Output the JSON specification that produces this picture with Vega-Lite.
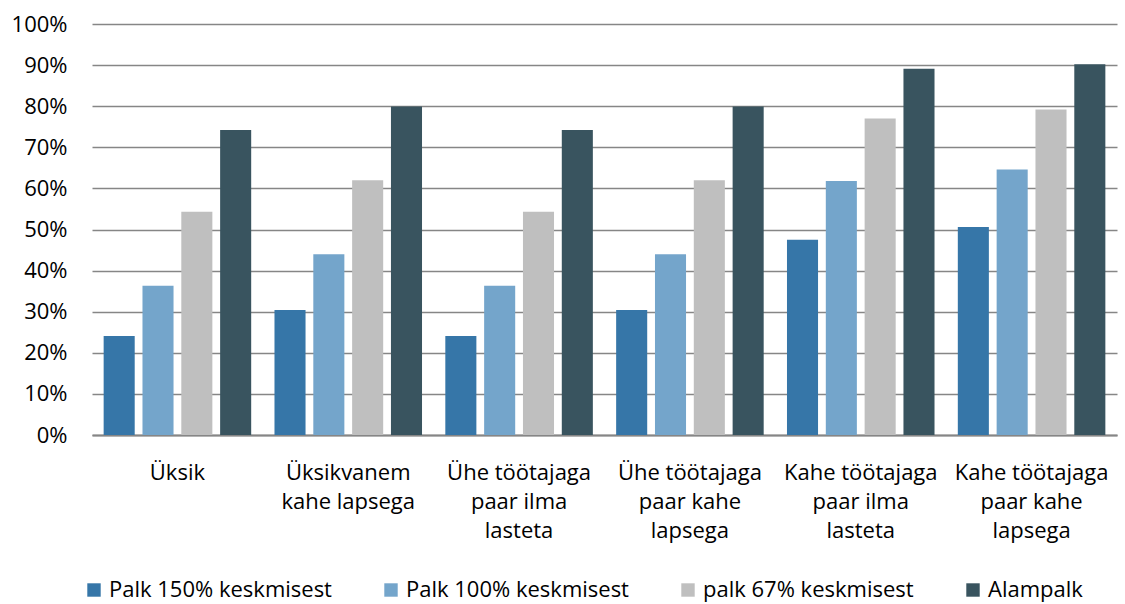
{
  "$schema": "https://vega.github.io/schema/vega-lite/v6.json",
  "width": 1025,
  "height": 411,
  "autosize": {"type": "none"},
  "padding": {"left": 92, "top": 24, "right": 8, "bottom": 169},
  "background": "white",
  "config": {
    "view": {"stroke": null},
    "font": "Open Sans",
    "axis": {"labelFont": "Open Sans", "labelColor": "#000000"},
    "legend": {"labelFont": "Open Sans"}
  },
  "data": {
    "values": [
      {"group": "Üksik", "series": "Palk 150% keskmisest", "value": 0.241},
      {"group": "Üksik", "series": "Palk 100% keskmisest", "value": 0.363},
      {"group": "Üksik", "series": "palk 67% keskmisest", "value": 0.543},
      {"group": "Üksik", "series": "Alampalk", "value": 0.742},
      {"group": "Üksikvanem kahe lapsega", "series": "Palk 150% keskmisest", "value": 0.304},
      {"group": "Üksikvanem kahe lapsega", "series": "Palk 100% keskmisest", "value": 0.44},
      {"group": "Üksikvanem kahe lapsega", "series": "palk 67% keskmisest", "value": 0.62},
      {"group": "Üksikvanem kahe lapsega", "series": "Alampalk", "value": 0.799},
      {"group": "Ühe töötajaga paar ilma lasteta", "series": "Palk 150% keskmisest", "value": 0.241},
      {"group": "Ühe töötajaga paar ilma lasteta", "series": "Palk 100% keskmisest", "value": 0.363},
      {"group": "Ühe töötajaga paar ilma lasteta", "series": "palk 67% keskmisest", "value": 0.543},
      {"group": "Ühe töötajaga paar ilma lasteta", "series": "Alampalk", "value": 0.742},
      {"group": "Ühe töötajaga paar kahe lapsega", "series": "Palk 150% keskmisest", "value": 0.304},
      {"group": "Ühe töötajaga paar kahe lapsega", "series": "Palk 100% keskmisest", "value": 0.44},
      {"group": "Ühe töötajaga paar kahe lapsega", "series": "palk 67% keskmisest", "value": 0.62},
      {"group": "Ühe töötajaga paar kahe lapsega", "series": "Alampalk", "value": 0.799},
      {"group": "Kahe töötajaga paar ilma lasteta", "series": "Palk 150% keskmisest", "value": 0.475},
      {"group": "Kahe töötajaga paar ilma lasteta", "series": "Palk 100% keskmisest", "value": 0.618},
      {"group": "Kahe töötajaga paar ilma lasteta", "series": "palk 67% keskmisest", "value": 0.77},
      {"group": "Kahe töötajaga paar ilma lasteta", "series": "Alampalk", "value": 0.891},
      {"group": "Kahe töötajaga paar kahe lapsega", "series": "Palk 150% keskmisest", "value": 0.506},
      {"group": "Kahe töötajaga paar kahe lapsega", "series": "Palk 100% keskmisest", "value": 0.646},
      {"group": "Kahe töötajaga paar kahe lapsega", "series": "palk 67% keskmisest", "value": 0.792},
      {"group": "Kahe töötajaga paar kahe lapsega", "series": "Alampalk", "value": 0.902}
    ]
  },
  "mark": {"type": "bar"},
  "encoding": {
    "x": {
      "field": "group",
      "type": "nominal",
      "sort": null,
      "scale": {"paddingInner": 0, "paddingOuter": 0},
      "axis": {
        "title": null,
        "labelAngle": 0,
        "labelFontSize": 22,
        "labelLineHeight": 29,
        "labelPadding": 37,
        "labelBaseline": "middle",
        "labelOverlap": false,
        "labelLimit": 0,
        "ticks": false,
        "domainColor": "#868686",
        "domainWidth": 2,
        "labelExpr": "datum.value == 'Üksik' ? 'Üksik' : datum.value == 'Üksikvanem kahe lapsega' ? ['Üksikvanem', 'kahe lapsega'] : datum.value == 'Ühe töötajaga paar ilma lasteta' ? ['Ühe töötajaga', 'paar ilma', 'lasteta'] : datum.value == 'Ühe töötajaga paar kahe lapsega' ? ['Ühe töötajaga', 'paar kahe', 'lapsega'] : datum.value == 'Kahe töötajaga paar ilma lasteta' ? ['Kahe töötajaga', 'paar ilma', 'lasteta'] : ['Kahe töötajaga', 'paar kahe', 'lapsega']"
      }
    },
    "xOffset": {
      "field": "series",
      "type": "nominal",
      "sort": ["Palk 150% keskmisest", "Palk 100% keskmisest", "palk 67% keskmisest", "Alampalk"],
      "scale": {"paddingInner": 0.2, "paddingOuter": 0.3}
    },
    "y": {
      "field": "value",
      "type": "quantitative",
      "scale": {"domain": [0, 1], "nice": false},
      "axis": {
        "title": null,
        "format": ".0%",
        "values": [0, 0.1, 0.2, 0.3, 0.4, 0.5, 0.6, 0.7, 0.8, 0.9, 1],
        "labelFontSize": 22,
        "labelPadding": 25,
        "labelOverlap": false,
        "labelBound": false,
        "ticks": false,
        "domain": false,
        "grid": true,
        "gridColor": "#868686",
        "gridWidth": 1.6
      }
    },
    "color": {
      "field": "series",
      "type": "nominal",
      "sort": ["Palk 150% keskmisest", "Palk 100% keskmisest", "palk 67% keskmisest", "Alampalk"],
      "scale": {
        "domain": ["Palk 150% keskmisest", "Palk 100% keskmisest", "palk 67% keskmisest", "Alampalk"],
        "range": ["#3676A8", "#74A5CB", "#BFBFBF", "#39545F"]
      },
      "legend": {
        "title": null,
        "orient": "none",
        "direction": "horizontal",
        "legendX": -9,
        "legendY": 555,
        "symbolType": "square",
        "symbolSize": 180,
        "symbolStrokeWidth": 0,
        "labelFontSize": 22,
        "labelOffset": 4,
        "labelLimit": 0,
        "columnPadding": 48,
        "labelColor": "#000000"
      }
    }
  }
}
